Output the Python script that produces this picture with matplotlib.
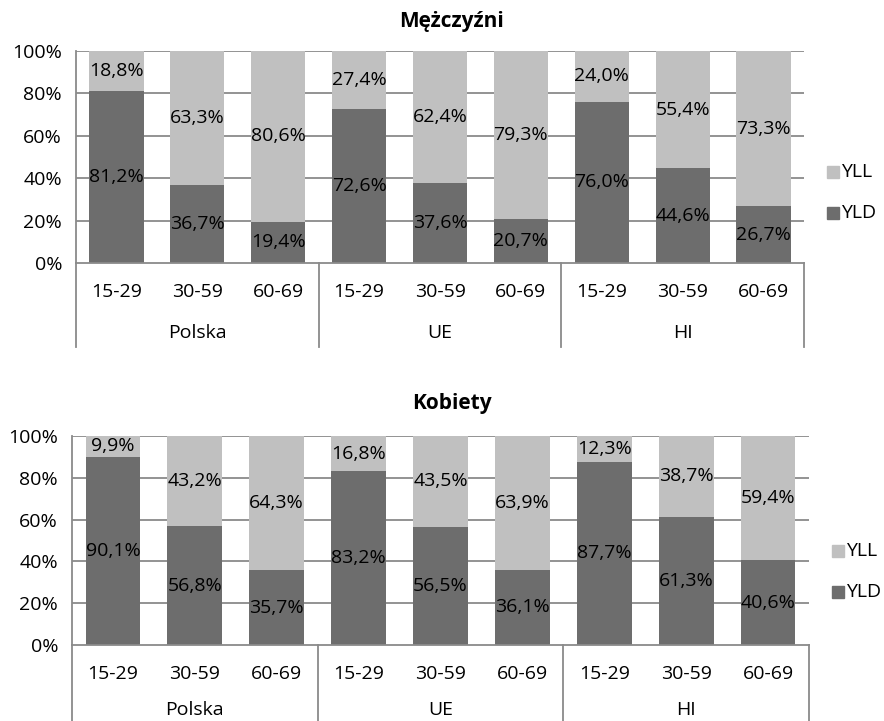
import matplotlib.pyplot as plt
import matplotlib.transforms as mtransforms

plt.rcParams['font.family'] = ['Open Sans', 'DejaVu Sans']

# data: share of YLD / YLL by age group and region
regions = ['Polska', 'UE', 'HI']
age_groups = ['15-29', '30-59', '60-69']

men_yld = [81.2, 36.7, 19.4, 72.6, 37.6, 20.7, 76.0, 44.6, 26.7]
men_yll = [18.8, 63.3, 80.6, 27.4, 62.4, 79.3, 24.0, 55.4, 73.3]

women_yld = [90.1, 56.8, 35.7, 83.2, 56.5, 36.1, 87.7, 61.3, 40.6]
women_yll = [9.9, 43.2, 64.3, 16.8, 43.5, 63.9, 12.3, 38.7, 59.4]

yticks = [0, 20, 40, 60, 80, 100]

DARK = '#6d6d6d'
LIGHT = '#c0c0c0'
AXIS = '#8a8a8a'
FS = 14

W, H = 884, 721
fig = plt.figure(figsize=(W / 100, H / 100), dpi=100)


def fmt(v):
    return ('%.1f%%' % v).replace('.', ',')


def panel(box, title, yld, yll, title_y, legend_y, group_y):
    x0, y0, x1, y1 = box
    ax = fig.add_axes([x0 / W, 1 - y1 / H, (x1 - x0) / W, (y1 - y0) / H])
    xs = list(range(len(yld)))
    ax.bar(xs, yld, width=0.67, color=DARK, zorder=2, label='YLD')
    ax.bar(xs, yll, width=0.67, bottom=yld, color=LIGHT, zorder=2, label='YLL')

    for x, a, b in zip(xs, yld, yll):
        ax.text(x, a / 2, fmt(a), ha='center', va='center', fontsize=FS, zorder=3)
        ax.text(x, a + b / 2, fmt(b), ha='center', va='center', fontsize=FS, zorder=3)

    ax.set_xlim(-0.5, len(yld) - 0.5)
    ax.set_ylim(0, 100)
    ax.set_yticks(yticks)
    ax.set_yticklabels(['%d%%' % t for t in yticks], fontsize=FS)
    ax.tick_params(axis='y', length=0, pad=10)
    ax.set_xticks([])
    for t in yticks[1:]:
        ax.axhline(t, color=AXIS, lw=1.3, zorder=1)
    for s in ['top', 'right']:
        ax.spines[s].set_visible(False)
    for s in ['left', 'bottom']:
        ax.spines[s].set_color(AXIS)
        ax.spines[s].set_linewidth(1.3)
    ax.spines['bottom'].set_zorder(4)

    # two-level category axis below the plot
    trans = mtransforms.blended_transform_factory(ax.transData, ax.transAxes)
    h = y1 - y0
    depth = 84 / h
    n = len(age_groups)
    for i, x in enumerate(xs):
        ax.text(x, -29 / h, age_groups[i % n], transform=trans,
                ha='center', va='center', fontsize=FS)
    for j, r in enumerate(regions):
        ax.text(j * n + (n - 1) / 2, -group_y / h, r, transform=trans,
                ha='center', va='center', fontsize=FS)
    for j in range(len(regions) + 1):
        ax.plot([j * n - 0.5] * 2, [0, -depth], transform=trans,
                color=AXIS, lw=1.3, clip_on=False)

    fig.text(452 / W, 1 - title_y / H, title, ha='center', va='center',
             fontsize=15, fontweight='bold')

    # legend entries on the right
    for lab, col, ly in [('YLL', LIGHT, legend_y[0]), ('YLD', DARK, legend_y[1])]:
        fig.patches.append(plt.Rectangle(((x1 + 23) / W, 1 - (ly + 6) / H), 12 / W, 12 / H,
                                         transform=fig.transFigure, color=col))
        fig.text((x1 + 37) / W, 1 - ly / H, lab, ha='left', va='center', fontsize=FS)
    return ax


panel((76, 51, 804, 263), 'Mężczyźni', men_yld, men_yll, 22, (172, 213), 70)
panel((72, 436, 809, 645), 'Kobiety', women_yld, women_yll, 403, (551, 592), 65)

fig.savefig('out.png', dpi=100)
